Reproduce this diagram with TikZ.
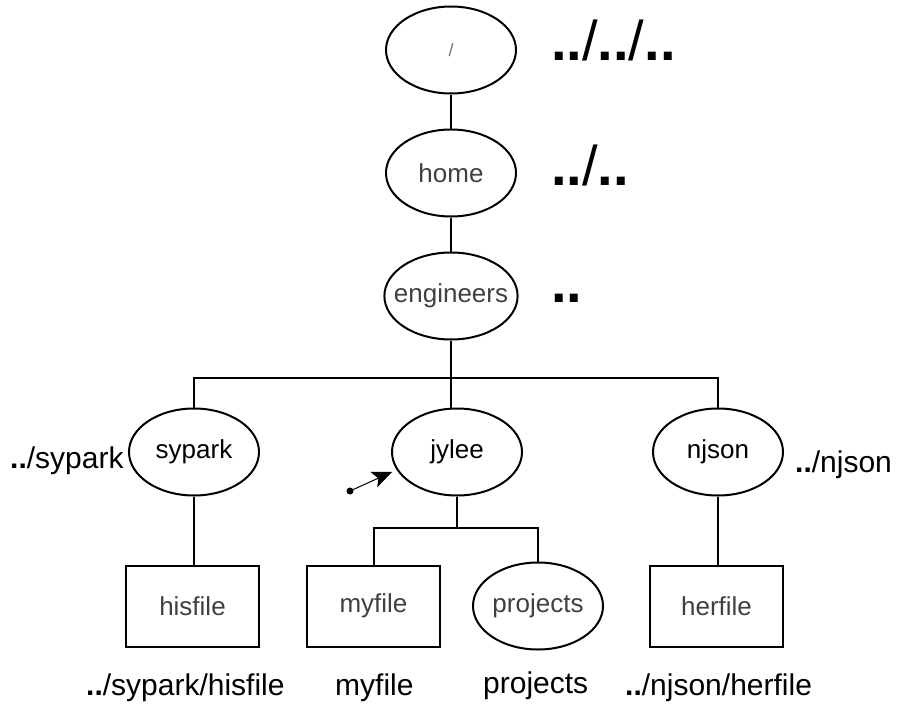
\documentclass[tikz,border=0pt]{standalone}
\usepackage{fontspec}
\setmainfont{Liberation Sans}
\usetikzlibrary{shapes.geometric,arrows.meta}
\begin{document}
\begin{tikzpicture}[x=1pt,y=-1pt,
 dirnode/.style={ellipse,draw,line width=2pt,minimum width=130pt,minimum height=87pt,inner xsep=-10pt,inner ysep=0pt,font=\fontsize{26}{26}\selectfont},
 filenode/.style={rectangle,draw,line width=2pt,minimum width=133pt,minimum height=81pt,inner sep=0pt,font=\fontsize{26}{26}\selectfont,text=black!75},
 conn/.style={line width=2pt},
 biglabel/.style={anchor=base west,inner sep=0pt,font=\fontsize{56}{56}\selectfont},
 pathlabel/.style={anchor=base west,inner sep=0pt,font=\fontsize{30}{30}\selectfont},
]
\useasboundingbox (0,0) rectangle (903,704);
% directory nodes
\node[dirnode,text=black!55,font=\fontsize{18}{18}\selectfont] (root) at (451,50) {/};
\node[dirnode,text=black!75] (home) at (451,173) {home};
\node[dirnode,text=black!75] (eng) at (451,296) {engineers};
\node[dirnode] (sypark) at (194,452) {sypark};
\node[dirnode] (jylee) at (457,452) {jylee};
\node[dirnode] (njson) at (718,452) {njson};
\node[filenode] (hisfile) at (192.5,606.5) {hisfile};
\node[filenode] (myfile) at (373.5,606) {myfile};
\node[dirnode,text=black!75] (projects) at (538,606) {projects};
\node[filenode] (herfile) at (716.5,606.5) {herfile};
% connectors
\draw[conn] (root) -- (home);
\draw[conn] (home) -- (eng);
\draw[conn] (eng.south) -- ++(0,37) coordinate (bus);
\draw[conn] (sypark.north) -- (sypark.north |- bus) -- (njson.north |- bus) -- (njson.north);
\draw[conn] (bus) -- (bus |- jylee.north);
\draw[conn] (sypark.south) -- (sypark.south |- hisfile.north);
\draw[conn] (njson.south) -- (njson.south |- herfile.north);
\draw[conn] (jylee.south) -- ++(0,31) coordinate (bustwo);
\draw[conn] (myfile.north) -- (myfile.north |- bustwo) -- (projects.north |- bustwo) -- (projects.north);
% relative path labels
\node[biglabel] (lroot) at (551,60) {\textbf{..}/\textbf{..}/\textbf{..}};
\node[biglabel] (lhome) at (551,185) {\textbf{..}/\textbf{..}};
\node[biglabel] (leng) at (551,302) {\textbf{..}};
\node[pathlabel] (lsypark) at (10,468) {\textbf{..}/sypark};
\node[pathlabel] (lnjson) at (795,472) {\textbf{..}/njson};
\node[pathlabel] (lhisfile) at (86,695) {\textbf{..}/sypark/hisfile};
\node[pathlabel] (lmyfile) at (335,695) {myfile};
\node[pathlabel] (lprojects) at (483,693) {projects};
\node[pathlabel] (lherfile) at (625,695) {\textbf{..}/njson/herfile};
% current directory pointer
\coordinate (dotpt) at (350,491);
\coordinate (tip) at (392,472);
\coordinate (inset) at (378.3,478.2);
\fill (dotpt) circle (3.5pt);
\draw[line width=1pt] (dotpt) -- (inset);
\fill (tip) -- (377.2,487.4) -- (inset) -- (370.2,471.8) -- cycle;
\end{tikzpicture}
\end{document}
